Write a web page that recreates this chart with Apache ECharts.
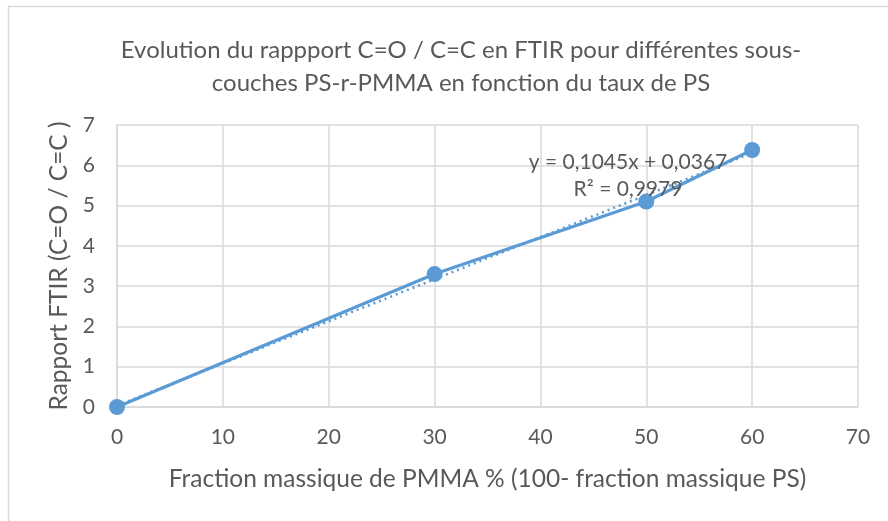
<!DOCTYPE html>
<html>
<head>
<meta charset="utf-8">
<script src="https://cdn.jsdelivr.net/npm/echarts@6/dist/echarts.min.js"></script>
<style>
  html, body { margin: 0; padding: 0; background: #fff; }
  #chart { width: 888px; height: 521px; }
</style>
</head>
<body>
<div id="chart"></div>
<script>
// Fraction massique de PMMA (%) and measured C=O / C=C ratio
const fractionPMMA = [0, 30, 50, 60];
const rapportFTIR = [0, 3.3, 5.1, 6.38];
const xTicks = [0, 10, 20, 30, 40, 50, 60, 70];
const yTicks = [0, 1, 2, 3, 4, 5, 6, 7];

// Least-squares linear fit for the trend line
function linearFit(xs, ys) {
  const n = xs.length;
  const mx = xs.reduce((a, b) => a + b, 0) / n;
  const my = ys.reduce((a, b) => a + b, 0) / n;
  let sxy = 0, sxx = 0, syy = 0;
  for (let i = 0; i < n; i++) {
    sxy += (xs[i] - mx) * (ys[i] - my);
    sxx += (xs[i] - mx) ** 2;
    syy += (ys[i] - my) ** 2;
  }
  const slope = sxy / sxx;
  const intercept = my - slope * mx;
  const r2 = (sxy * sxy) / (sxx * syy);
  return { slope, intercept, r2 };
}

const fit = linearFit(fractionPMMA, rapportFTIR);
const xMinData = Math.min(...fractionPMMA);
const xMaxData = Math.max(...fractionPMMA);
const trend = [
  [xMinData, fit.intercept + fit.slope * xMinData],
  [xMaxData, fit.intercept + fit.slope * xMaxData]
];
const fmt = (v, d) => v.toFixed(d).replace('.', ',');
const eqText = 'y = ' + fmt(fit.slope, 4) + 'x + ' + fmt(fit.intercept, 4);
const r2Text = 'R² = ' + fmt(fit.r2, 4);

const FONT = 'Lato';
const TXT = '#595959';
const BLUE = '#5B9BD5';

const chart = echarts.init(document.getElementById('chart'), null, { renderer: 'canvas' });
chart.setOption({
  animation: false,
  backgroundColor: '#fff',
  title: {
    text: 'Evolution du rappport C=O / C=C en FTIR pour différentes sous-\ncouches PS-r-PMMA en fonction du taux de PS',
    left: 456,
    top: 29,
    textAlign: 'center',
    textStyle: { fontFamily: FONT, fontSize: 24, fontWeight: 'normal', color: TXT, lineHeight: 33 }
  },
  grid: { left: 117, right: 30, top: 125, bottom: 114 },
  xAxis: {
    type: 'value',
    min: xTicks[0],
    max: xTicks[xTicks.length - 1],
    interval: xTicks[1] - xTicks[0],
    name: 'Fraction massique de PMMA % (100- fraction massique PS)',
    nameLocation: 'middle',
    nameGap: 60,
    nameTextStyle: { fontFamily: FONT, fontSize: 24.5, color: TXT },
    axisLine: { show: true, lineStyle: { color: '#D9D9D9', width: 1.5 } },
    axisTick: { show: false },
    axisLabel: { fontFamily: FONT, fontSize: 21, color: TXT, margin: 20 },
    splitLine: { show: true, lineStyle: { color: '#D9D9D9', width: 1.5 } }
  },
  yAxis: {
    type: 'value',
    min: yTicks[0],
    max: yTicks[yTicks.length - 1],
    interval: yTicks[1] - yTicks[0],
    name: 'Rapport FTIR (C=O / C=C )',
    nameLocation: 'middle',
    nameGap: 42,
    nameTextStyle: { fontFamily: FONT, fontSize: 24.5, color: TXT },
    axisLine: { show: true, lineStyle: { color: '#D9D9D9', width: 1.5 } },
    axisTick: { show: false },
    axisLabel: { fontFamily: FONT, fontSize: 21, color: TXT, margin: 22 },
    splitLine: { show: true, lineStyle: { color: '#D9D9D9', width: 1.5 } }
  },
  series: [
    {
      type: 'line',
      data: trend,
      symbol: 'none',
      lineStyle: { color: BLUE, width: 2.5, type: [2, 4] },
      z: 2
    },
    {
      type: 'line',
      data: fractionPMMA.map((x, i) => [x, rapportFTIR[i]]),
      symbol: 'circle',
      symbolSize: 16,
      itemStyle: { color: BLUE },
      lineStyle: { color: BLUE, width: 3.2 },
      z: 3
    }
  ],
  graphic: [
    {
      type: 'rect',
      shape: { x: 8.5, y: 6.5, width: 900, height: 540 },
      style: { fill: 'none', stroke: '#D9D9D9', lineWidth: 1.5 },
      silent: true
    },
    {
      type: 'text',
      x: 628, y: 162,
      style: { text: eqText, fontFamily: FONT, fontSize: 21, fill: TXT, align: 'center', verticalAlign: 'middle' },
      z: 10
    },
    {
      type: 'text',
      x: 628, y: 189,
      style: { text: r2Text, fontFamily: FONT, fontSize: 21, fill: TXT, align: 'center', verticalAlign: 'middle' },
      z: 10
    }
  ]
});
</script>
</body>
</html>
